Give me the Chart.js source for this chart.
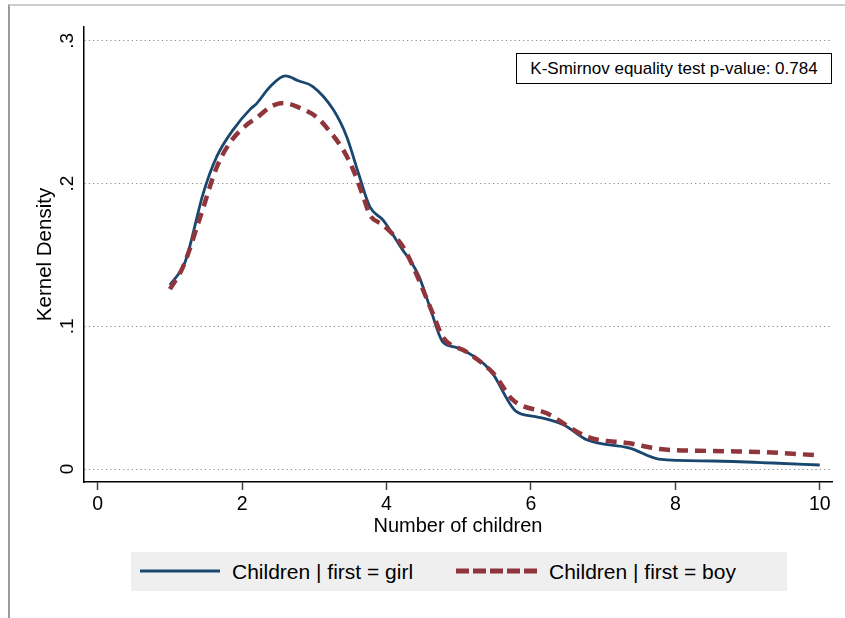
<!DOCTYPE html>
<html>
<head>
<meta charset="utf-8">
<script src="https://cdn.jsdelivr.net/npm/chart.js@4.4.1/dist/chart.umd.min.js"></script>
<style>
  body { margin: 0; background: #fff; font-family: "Liberation Sans", Arial, sans-serif; }
  #wrap { position: relative; width: 845px; height: 618px; overflow: hidden; }
  #frame { position: absolute; left: 8px; top: 4px; width: 900px; height: 700px;
           border-top: 2px solid #cdcdcd; border-left: 2px solid #9a9a9a; }
  #chart { position: absolute; left: 0; top: 0; }
  #note { position: absolute; left: 516px; top: 53px; width: 314px; height: 29px;
          border: 1px solid #000; background: #fff; font-size: 17px; line-height: 29px;
          text-align: center; color: #000; }
  #legend { position: absolute; left: 131px; top: 552px; width: 656px; height: 39px; background: #efefef; }
  #legend svg { position: absolute; top: 16px; }
  #legend span { position: absolute; top: 0; line-height: 39px; font-size: 21px; color: #000; white-space: nowrap; }
</style>
</head>
<body>
<div id="wrap">
  <div id="frame"></div>
  <canvas id="chart" width="845" height="618"></canvas>
  <div id="note">K-Smirnov equality test p-value: 0.784</div>
  <div id="legend"></div>
</div>
<script>
// 数据：核密度曲线
const seriesLabels = ['Children | first = girl', 'Children | first = boy'];

const girlX = [1.0, 1.21, 1.46, 1.65, 1.88, 2.11, 2.2, 2.39, 2.6, 2.78, 2.98, 3.26, 3.45, 3.61, 3.77,
               3.95, 4.23, 4.33, 4.45, 4.6, 4.78, 4.98, 5.44, 5.79, 6.08, 6.45, 6.78, 7.37, 7.77, 8.52, 9.35, 10.0];
const girlY = [0.129, 0.145, 0.193, 0.219, 0.238, 0.252, 0.256, 0.268, 0.2754, 0.272, 0.268, 0.252, 0.2327, 0.2074, 0.1836,
               0.1745, 0.153, 0.146, 0.135, 0.1135, 0.089, 0.085, 0.069, 0.0406, 0.0366, 0.031, 0.0203, 0.0147, 0.007, 0.0056, 0.0042, 0.0028];

const boyX = [1.0, 1.18, 1.42, 1.65, 1.83, 2.06, 2.2, 2.39, 2.57, 2.8, 3.03, 3.22, 3.4, 3.54, 3.68, 3.77,
              3.95, 4.23, 4.37, 4.64, 4.78, 5.11, 5.48, 5.75, 6.22, 6.79, 7.37, 7.79, 8.52, 9.21, 10.0];
const boyY = [0.126, 0.1415, 0.1766, 0.2116, 0.2285, 0.241, 0.246, 0.2537, 0.2565, 0.253, 0.2467, 0.2362, 0.2236, 0.2095, 0.1906, 0.178,
              0.171, 0.1556, 0.1416, 0.109, 0.0925, 0.082, 0.067, 0.0484, 0.039, 0.0224, 0.018, 0.014, 0.0126, 0.0119, 0.0095];

const xTicks = [0, 2, 4, 6, 8, 10];
const yTicks = [0, 0.1, 0.2, 0.3];
const yTickLabels = ['0', '.1', '.2', '.3'];

const girlColor = '#1a476f';
const boyColor = '#90353b';
const boyDash = [11, 7];
const FONT = '"Liberation Sans", Arial, sans-serif';

// 把数组拼成点
function toPoints(xs, ys) {
    return xs.map((x, i) => ({ x: x, y: ys[i] }));
}

// y 轴刻度标签竖着写（Stata 风格）
const yTickLabelPlugin = {
    id: 'yTickLabels',
    afterDraw(chart) {
        const ctx = chart.ctx;
        const scale = chart.scales.y;
        ctx.save();
        ctx.font = '19px ' + FONT;
        ctx.fillStyle = '#000';
        ctx.textAlign = 'center';
        ctx.textBaseline = 'middle';
        yTicks.forEach((v, i) => {
            const py = scale.getPixelForValue(v);
            ctx.save();
            ctx.translate(scale.right - 16, py);
            ctx.rotate(-Math.PI / 2);
            ctx.fillText(yTickLabels[i], 0, 0);
            ctx.restore();
        });
        ctx.restore();
    }
};

const ctx = document.getElementById('chart').getContext('2d');
new Chart(ctx, {
    type: 'line',
    data: {
        datasets: [{
            label: seriesLabels[0],
            data: toPoints(girlX, girlY),
            borderColor: girlColor,
            borderWidth: 2.8,
            pointRadius: 0,
            cubicInterpolationMode: 'monotone',
            order: 2
        }, {
            label: seriesLabels[1],
            data: toPoints(boyX, boyY),
            borderColor: boyColor,
            borderWidth: 4.5,
            borderDash: boyDash,
            borderCapStyle: 'butt',
            pointRadius: 0,
            cubicInterpolationMode: 'monotone',
            order: 1
        }]
    },
    options: {
        responsive: false,
        animation: false,
        devicePixelRatio: 1,
        layout: { padding: { left: 33, right: 13, top: 27, bottom: 78 } },
        plugins: {
            legend: { display: false },
            tooltip: { enabled: false }
        },
        scales: {
            x: {
                type: 'linear',
                min: -0.19,
                max: 10.17,
                afterBuildTicks: scale => { scale.ticks = xTicks.map(v => ({ value: v })); },
                afterFit: scale => { scale.height = 58; },
                ticks: { color: '#000', font: { family: FONT, size: 19.5 }, padding: 3, maxRotation: 0 },
                grid: { drawOnChartArea: false, drawTicks: true, tickLength: 8, tickColor: '#444', tickWidth: 1.5 },
                border: { color: '#000', width: 1.5 },
                title: { display: true, text: 'Number of children', color: '#000',
                         font: { family: FONT, size: 20 }, padding: { top: 0, bottom: 2 } }
            },
            y: {
                min: -0.0091,
                max: 0.3097,
                afterBuildTicks: scale => { scale.ticks = yTicks.map(v => ({ value: v })); },
                afterFit: scale => { scale.width = 51; },
                ticks: { display: false },
                grid: { color: '#8a8a8a', lineWidth: 1, drawTicks: false },
                border: { color: '#000', width: 1.5, dash: [1.2, 3.1] },
                title: { display: true, text: 'Kernel Density', color: '#000',
                         font: { family: FONT, size: 20.5 }, padding: { top: 0, bottom: 0 } }
            }
        }
    },
    plugins: [yTickLabelPlugin]
});

// 图例
const legend = document.getElementById('legend');
legend.innerHTML = `
    <svg style="left:9px" width="80" height="6"><line x1="0" y1="3" x2="80" y2="3" stroke="${girlColor}" stroke-width="3"/></svg>
    <span style="left:101px">${seriesLabels[0]}</span>
    <svg style="left:325px" width="81" height="6"><line x1="0" y1="3" x2="81" y2="3" stroke="${boyColor}" stroke-width="5" stroke-dasharray="13 4"/></svg>
    <span style="left:418px">${seriesLabels[1]}</span>
`;
</script>
</body>
</html>
